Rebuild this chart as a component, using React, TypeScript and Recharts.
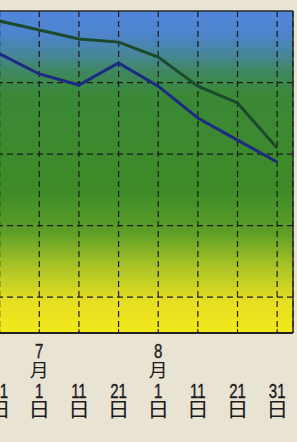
import React from 'react';
import { LineChart, Line, XAxis, YAxis, CartesianGrid, ReferenceLine } from 'recharts';

// x index: 0 = 6/21, 1 = 7/1 ... 7 = 8/31 (10-day steps)
const dayIndex = [0, 1, 2, 3, 4, 5, 6, 7];
const dayLabels = ['21', '1', '11', '21', '1', '11', '21', '31'];
const monthLabels = ['', '7', '', '', '8', '', '', ''];
const greenSeries = [87.2, 84.7, 82.2, 81.3, 77.1, 69.0, 64.3, 51.7];
const blueSeries = [78.0, 72.4, 69.3, 75.5, 69.0, 60.1, 53.9, 47.8];
const yTicks = [10, 30, 50, 70];

const data = dayIndex.map((i, k) => ({ i, green: greenSeries[k], blue: blueSeries[k] }));

const ink = '#1c1c1c';
const gridDash = '6 4';

function DateTick(props: any) {
  const { x, payload } = props;
  const k = dayIndex.indexOf(payload.value);
  if (k < 0) return null;
  const month = monthLabels[k];
  return (
    <g fill={ink}>
      <line x1={x} x2={x} y1={333} y2={329} stroke={ink} strokeWidth={1} />
      {month && (
        <g transform={`translate(${x},358) scale(1,1.35)`}>
          <text textAnchor="middle" fontSize={15} fontFamily="Liberation Sans" stroke={ink} strokeWidth={0.3}>{month}</text>
        </g>
      )}
      {month && (
        <g transform={`translate(${x},377) scale(1.05,1)`}>
          <text textAnchor="middle" fontSize={18} fontFamily="Noto Sans CJK JP">月</text>
        </g>
      )}
      <g transform={`translate(${x},398) scale(1,1.38)`}>
        <text textAnchor="middle" fontSize={15} fontFamily="Liberation Sans" stroke={ink} strokeWidth={0.3}>{dayLabels[k]}</text>
      </g>
      <g transform={`translate(${x},417) scale(1.1,1)`}>
        <text textAnchor="middle" fontSize={20} fontFamily="Noto Sans CJK JP">日</text>
      </g>
    </g>
  );
}

export default function App() {
  return (
    <div style={{ position: 'absolute', left: 0, top: 0, width: 297, height: 442, overflow: 'hidden', background: '#e9e3d3' }}>
      <div style={{ position: 'absolute', left: -40, top: 0 }}>
        <LineChart width={340} height={442} data={data} margin={{ top: 11, right: 6, bottom: 9, left: 0 }}>
          <defs>
            <linearGradient id="bg" x1="0" y1="0" x2="0" y2="1">
              <stop offset="0" stopColor="#5286dc" />
              <stop offset="0.07" stopColor="#4d84cc" />
              <stop offset="0.13" stopColor="#47869e" />
              <stop offset="0.19" stopColor="#3f875e" />
              <stop offset="0.26" stopColor="#3a8836" />
              <stop offset="0.56" stopColor="#3e8b27" />
              <stop offset="0.69" stopColor="#5e9f27" />
              <stop offset="0.79" stopColor="#a8c226" />
              <stop offset="0.9" stopColor="#e6de22" />
              <stop offset="1" stopColor="#f2e91c" />
            </linearGradient>
          </defs>
          <CartesianGrid fill="url(#bg)" fillOpacity={1} horizontal={false} stroke="#1a1a1a" strokeDasharray={gridDash} strokeWidth={1.2} />
          <XAxis
            dataKey="i"
            type="number"
            domain={[-1, 7.4]}
            ticks={dayIndex}
            allowDataOverflow
            interval={0}
            height={100}
            axisLine={{ stroke: '#222', strokeWidth: 2 }}
            tickLine={false}
            tick={<DateTick />}
          />
          <YAxis orientation="right" type="number" domain={[0, 90]} width={1} tick={false} tickLine={false} axisLine={false} />
          {yTicks.map((v) => (
            <ReferenceLine key={v} y={v} stroke="#1a1a1a" strokeDasharray={gridDash} strokeWidth={1.2} />
          ))}
          <ReferenceLine y={90} stroke="#2a2a2a" strokeWidth={1.5} />
          <ReferenceLine x={7.4} stroke="#2a2a2a" strokeWidth={1.5} />
          <Line dataKey="green" stroke="#1b4a2c" strokeWidth={3} dot={false} isAnimationActive={false} />
          <Line dataKey="blue" stroke="#1c2a82" strokeWidth={3} dot={false} isAnimationActive={false} />
        </LineChart>
      </div>
    </div>
  );
}
